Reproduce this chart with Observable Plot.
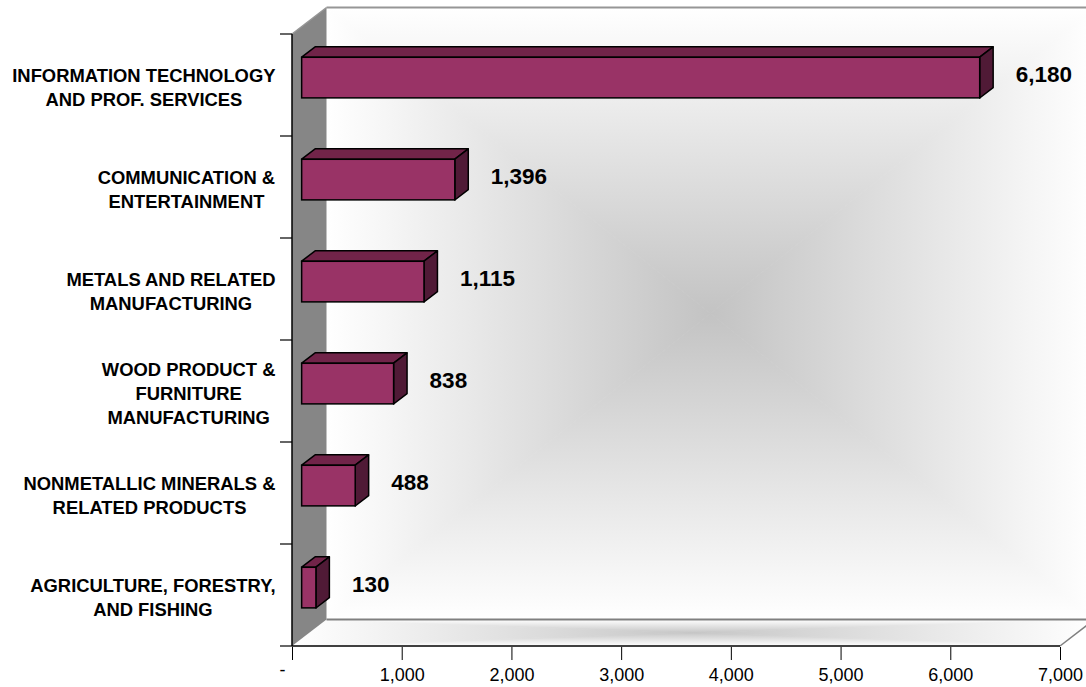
<!DOCTYPE html>
<html>
<head>
<meta charset="utf-8">
<script src="https://cdn.jsdelivr.net/npm/d3@7"></script>
<script src="https://cdn.jsdelivr.net/npm/@observablehq/plot@0.6"></script>
<style>
  html, body { margin: 0; padding: 0; background: #fff; }
  svg { display: block; }
</style>
</head>
<body>
<script>
// ---------- data ----------
const categories = [
  "INFORMATION TECHNOLOGY\nAND PROF. SERVICES",
  "COMMUNICATION &\nENTERTAINMENT",
  "METALS AND RELATED\nMANUFACTURING",
  "WOOD PRODUCT &\nFURNITURE\nMANUFACTURING",
  "NONMETALLIC MINERALS &\nRELATED PRODUCTS",
  "AGRICULTURE, FORESTRY,\nAND FISHING"
];
const values = [6180, 1396, 1115, 838, 488, 130];
const xTicks = [0, 1000, 2000, 3000, 4000, 5000, 6000, 7000];
const xDomain = [0, 7000];

const data = categories.map((cat, i) => ({cat, value: values[i]}));
const fmt = d3.format(",");

// ---------- 3D look ----------
const DEPTH = {x: 34.5, y: -26.5};     // full wall depth (px)
const BAR_FRONT = 0.28, BAR_BACK = 0.67; // bar depth fractions
const BAR_INSET = 0.3;                  // fraction of band left empty on each side
const FRONT_COLOR = "#993366", TOP_COLOR = "#712449", SIDE_COLOR = "#501a36";

function rectGradient(parent, defs, id, bx0, by0, bx1, by1, inner, outer) {
  const cx = (bx0 + bx1) / 2, cy = (by0 + by1) / 2;
  const parts = [
    {pts: [[bx0, by0], [bx1, by0], [cx, cy]], from: [cx, by0]},
    {pts: [[bx0, by1], [bx1, by1], [cx, cy]], from: [cx, by1]},
    {pts: [[bx0, by0], [bx0, by1], [cx, cy]], from: [bx0, cy]},
    {pts: [[bx1, by0], [bx1, by1], [cx, cy]], from: [bx1, cy]}
  ];
  parts.forEach((p, k) => {
    const gid = `${id}-${k}`;
    const lg = defs.append("linearGradient").attr("id", gid)
      .attr("gradientUnits", "userSpaceOnUse")
      .attr("x1", p.from[0]).attr("y1", p.from[1]).attr("x2", cx).attr("y2", cy);
    lg.append("stop").attr("offset", 0).attr("stop-color", outer);
    lg.append("stop").attr("offset", 1).attr("stop-color", inner);
    parent.append("polygon").attr("points", p.pts.map(q => q.join(",")).join(" "))
      .attr("fill", `url(#${gid})`).attr("stroke", `url(#${gid})`).attr("stroke-width", 0.8);
  });
}

function walls(index, scales) {
  const {x, y} = scales;
  const x0 = x(xDomain[0]), x1 = x(xDomain[1]);
  const yTop = y(categories[0]);
  const bw = y(categories[1]) - y(categories[0]);
  const yBot = yTop + bw * categories.length;
  const g = d3.create("svg:g");
  const defs = g.append("defs");

  // back wall
  rectGradient(g.append("g"), defs, "backwall",
    x0 + DEPTH.x, yTop + DEPTH.y, x1 + DEPTH.x, yBot + DEPTH.y, "#c3c3c3", "#ffffff");

  // floor (parallelogram)
  const floorPts = [[x0, yBot], [x0 + DEPTH.x, yBot + DEPTH.y], [x1 + DEPTH.x, yBot + DEPTH.y], [x1, yBot]];
  defs.append("clipPath").attr("id", "floorclip")
    .append("polygon").attr("points", floorPts.map(q => q.join(",")).join(" "));
  const fg = g.append("g").attr("clip-path", "url(#floorclip)");
  rectGradient(fg, defs, "floor", x0, yBot + DEPTH.y, x1 + DEPTH.x, yBot, "#c6c6c6", "#ffffff");

  // left wall
  g.append("polygon")
    .attr("points", [[x0, yTop], [x0 + DEPTH.x, yTop + DEPTH.y], [x0 + DEPTH.x, yBot + DEPTH.y], [x0, yBot]]
      .map(q => q.join(",")).join(" "))
    .attr("fill", "#868686");

  const line = (a, b, stroke, w) => g.append("line")
    .attr("x1", a[0]).attr("y1", a[1]).attr("x2", b[0]).attr("y2", b[1])
    .attr("stroke", stroke).attr("stroke-width", w);

  // gray edges
  line([x0 + DEPTH.x, yTop + DEPTH.y], [x1 + DEPTH.x, yTop + DEPTH.y], "#969696", 2);
  line([x0, yTop], [x0 + DEPTH.x, yTop + DEPTH.y], "#969696", 1.5);
  line([x0 + DEPTH.x, yBot + DEPTH.y], [x1 + DEPTH.x, yBot + DEPTH.y], "#808080", 2);
  line([x1, yBot], [x1 + DEPTH.x, yBot + DEPTH.y], "#808080", 1.5);

  // axes lines
  line([x0, yTop], [x0, yBot], "#000", 1.5);
  line([x0, yBot], [x1, yBot], "#000", 1.5);
  for (let i = 0; i <= categories.length; i++) {
    const yy = yTop + i * bw;
    line([x0 - 12, yy], [x0, yy], "#000", 1.2);
  }
  return g.node();
}

function barSides(index, scales) {
  const {x, y} = scales;
  const bw = y(categories[1]) - y(categories[0]);
  const fx = BAR_FRONT * DEPTH.x, fy = BAR_FRONT * DEPTH.y;
  const bx = (BAR_BACK - BAR_FRONT) * DEPTH.x, by = (BAR_BACK - BAR_FRONT) * DEPTH.y;
  const g = d3.create("svg:g")
    .attr("stroke", "#000").attr("stroke-width", 1.5).attr("stroke-linejoin", "round");
  data.forEach(d => {
    const xs = x(0) + fx, xe = x(d.value) + fx;
    const yt = y(d.cat) + BAR_INSET * bw + fy, yb = y(d.cat) + (1 - BAR_INSET) * bw + fy;
    g.append("polygon")
      .attr("points", [[xs, yt], [xe, yt], [xe + bx, yt + by], [xs + bx, yt + by]].map(q => q.join(",")).join(" "))
      .attr("fill", TOP_COLOR);
    g.append("polygon")
      .attr("points", [[xe, yt], [xe + bx, yt + by], [xe + bx, yb + by], [xe, yb]].map(q => q.join(",")).join(" "))
      .attr("fill", SIDE_COLOR);
  });
  return g.node();
}

const W = 1086, H = 687;
const bandPx = (H - 33 - 40) / categories.length;

const chart = Plot.plot({
  width: W,
  height: H,
  marginLeft: 292,
  marginRight: 26,
  marginTop: 33,
  marginBottom: 40,
  style: {
    fontFamily: "'Liberation Sans', Arial, Helvetica, sans-serif",
    fontSize: "18px",
    color: "#000",
    background: "#fff"
  },
  x: {
    domain: xDomain,
    ticks: xTicks,
    tickFormat: d => d === 0 ? "" : fmt(d),
    tickSize: 13,
    tickPadding: 8,
    label: null
  },
  y: {type: "band", domain: categories, padding: 0, axis: null},
  marks: [
    walls,
    barSides,
    Plot.barX(data, {
      x: "value",
      y: "cat",
      fill: FRONT_COLOR,
      stroke: "#000",
      strokeWidth: 1.5,
      insetTop: BAR_INSET * bandPx,
      insetBottom: BAR_INSET * bandPx,
      dx: BAR_FRONT * DEPTH.x,
      dy: BAR_FRONT * DEPTH.y
    }),
    Plot.text(data, {
      x: "value",
      y: "cat",
      text: d => fmt(d.value),
      textAnchor: "start",
      dx: BAR_FRONT * DEPTH.x + 35.5,
      dy: BAR_FRONT * DEPTH.y - 3.2,
      fontSize: 22.5,
      fontWeight: "bold",
      fill: "#000"
    }),
    Plot.text(data, {
      y: "cat",
      text: "cat",
      frameAnchor: "left",
      textAnchor: "end",
      dx: -17,
      dy: 1,
      lineHeight: 1.3,
      fontSize: 18.4,
      fontWeight: "bold",
      fill: "#000"
    }),
    Plot.text([xTicks[0]], {
      x: d => d,
      text: () => "-",
      frameAnchor: "bottom",
      dy: 28,
      dx: -10,
      fontSize: 18,
      fill: "#000"
    })
  ]
});

document.body.appendChild(chart);

// center the lines of each multi-line category label within its (right-aligned) block
const flatCats = new Set(categories.map(c => c.replace(/\n/g, "")));
chart.querySelectorAll("text").forEach(t => {
  if (!flatCats.has(t.textContent)) return;
  const w = t.getBBox().width;
  t.setAttribute("text-anchor", "middle");
  const tspans = t.querySelectorAll("tspan");
  if (tspans.length) tspans.forEach(s => s.setAttribute("x", -w / 2));
  else t.setAttribute("x", -w / 2);
});
</script>
</body>
</html>
